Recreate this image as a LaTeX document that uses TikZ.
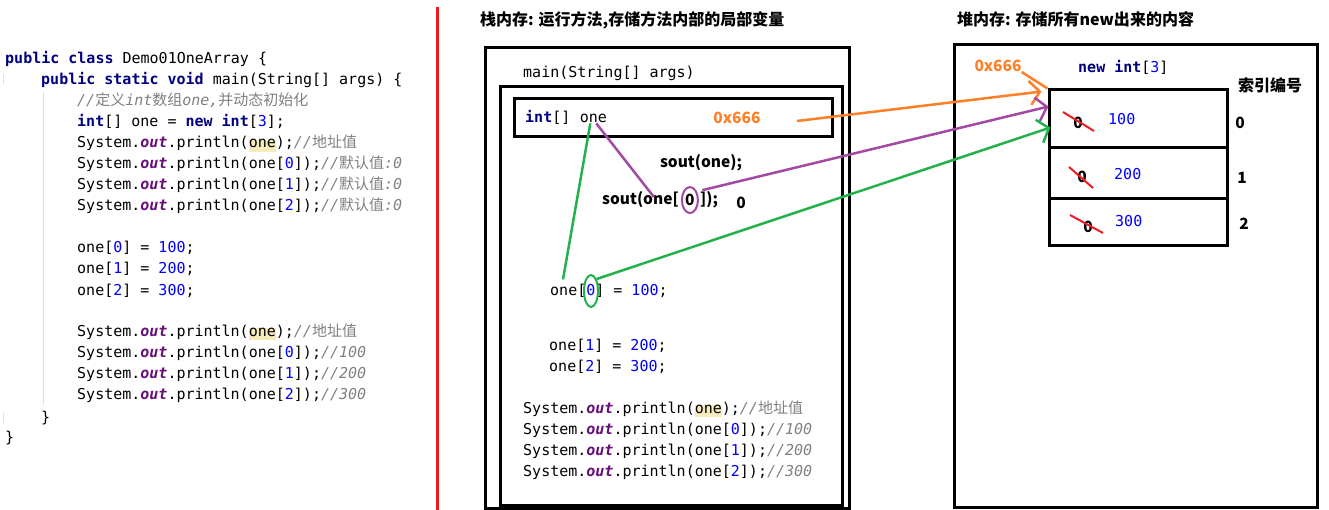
\documentclass[tikz,border=0pt]{standalone}
\usepackage{fontspec}
\setmonofont{DejaVu Sans Mono}
\newfontfamily\cjk{Noto Sans CJK SC}
\usepackage{xcolor}
\usepackage{tikz}
\usetikzlibrary{positioning, shapes.geometric, arrows.meta, calc}

\definecolor{kwc}{RGB}{0,0,128}
\definecolor{outc}{RGB}{102,14,122}
\definecolor{numc}{RGB}{0,0,255}
\definecolor{cmtc}{RGB}{128,128,128}
\definecolor{hlbg}{RGB}{246,235,188}
\definecolor{arrO}{RGB}{255,127,39}
\definecolor{arrP}{RGB}{163,73,164}
\definecolor{arrG}{RGB}{34,177,76}
\definecolor{redc}{RGB}{237,28,36}
\definecolor{guidec}{RGB}{224,224,224}

\newcommand\kw[1]{\textcolor{kwc}{\bfseries #1}}
\newcommand\nbr[1]{\textcolor{numc}{#1}}
\newcommand\outf{\textcolor{outc}{\bfseries\itshape out}}
\newcommand\cmt[1]{\textcolor{cmtc}{\itshape #1}}
\newcommand\hlone{{\setlength\fboxsep{0pt}\colorbox{hlbg}{\rule[-4pt]{0pt}{11pt}one}}}

\begin{document}
\begin{tikzpicture}[
  x=1pt, y=-1pt,
  code/.style={anchor=base west, inner sep=0pt,
               font=\ttfamily\fontsize{15}{18}\selectfont},
  title/.style={inner sep=0pt, font=\cjk\bfseries\fontsize{16}{19}\selectfont},
  hand/.style={inner sep=0pt, font=\cjk\bfseries\fontsize{15.5}{19}\selectfont},
  box/.style={draw, line width=3pt, inner sep=0pt},
  ring/.style={ellipse, draw=#1, line width=2pt, inner sep=0pt},
  link/.style={draw=#1, line width=2.5pt},
  ptr/.style={link=#1, -{Straight Barb[length=10pt, width=24pt]}},
  strike/.style={draw=redc, line width=2pt},
  guide/.style={draw=guidec, line width=1pt}
]
  \useasboundingbox (0,0) rectangle (1329,510);

  % source code on the left
  \draw[guide] (43,92) -- (43,405);
  \draw[guide] (3,74) -- (3,84);
  \draw[guide] (3,413) -- (3,423);
  \node[code] (L1)  at (5,64)   {\kw{public} \kw{class} Demo01OneArray \{};
  \node[code] (L2)  at (41,85)  {\kw{public} \kw{static} \kw{void} main(String[] args) \{};
  \node[code] (L3)  at (77,106) {\cmt{//{\cjk 定义}int{\cjk 数组}one,{\cjk 并动态初始化}}};
  \node[code] (L4)  at (77,127) {\kw{int}[] one = \kw{new} \kw{int}[\nbr{3}];};
  \node[code] (L5)  at (77,148) {System.\outf.println(\hlone);\cmt{//{\cjk 地址值}}};
  \node[code] (L6)  at (77,169) {System.\outf.println(one[\nbr{0}]);\cmt{//{\cjk 默认值}:0}};
  \node[code] (L7)  at (77,190) {System.\outf.println(one[\nbr{1}]);\cmt{//{\cjk 默认值}:0}};
  \node[code] (L8)  at (77,211) {System.\outf.println(one[\nbr{2}]);\cmt{//{\cjk 默认值}:0}};
  \node[code] (L9)  at (77,253) {one[\nbr{0}] = \nbr{100};};
  \node[code] (L10) at (77,274) {one[\nbr{1}] = \nbr{200};};
  \node[code] (L11) at (77,295) {one[\nbr{2}] = \nbr{300};};
  \node[code] (L12) at (77,336) {System.\outf.println(\hlone);\cmt{//{\cjk 地址值}}};
  \node[code] (L13) at (77,357) {System.\outf.println(one[\nbr{0}]);\cmt{//100}};
  \node[code] (L14) at (77,378) {System.\outf.println(one[\nbr{1}]);\cmt{//200}};
  \node[code] (L15) at (77,399) {System.\outf.println(one[\nbr{2}]);\cmt{//300}};
  \node[code] (L16) at (41,422) {\}};
  \node[code] (L17) at (5,442)  {\}};

  \draw[draw=redc, line width=3pt] (437,7) -- (437,510);

  % stack
  \node[title, anchor=base west] (stacktitle) at (480,26) {栈内存: 运行方法,存储方法内部的局部变量};
  \node[box, minimum width=364pt, minimum height=460pt] (stack) at (667,278) {};
  \node[box, minimum width=342pt, minimum height=418pt] (frame) at (671,296) {};
  \node[code] (mainsig) at (523,78) {main(String[] args)};
  \node[box, minimum width=318pt, minimum height=38pt] (var) at (673,118) {};
  \node[code] (decl) at (525,123) {\kw{int}[]};
  \node[code] (onename) at ([xshift=9pt]decl.base east) {one};
  \node[hand, text=arrO] (hexval) at (737,118) {0x666};
  \node[hand] (soutone) at (701,163) {sout(one);};
  \node[hand, anchor=base west] (soutL) at (602,205) {sout(one[};
  \node[ring=arrP, font=\cjk\bfseries\fontsize{15.5}{19}\selectfont,
        minimum width=16pt, minimum height=26pt, right=2pt of soutL] (idx0) {0};
  \node[hand, right=1pt of idx0] (soutR) {]);};
  \node[hand] (zeroout) at (741,203) {0};

  \node[code] (set0) at (550,295) {one[\nbr{0}] = \nbr{100};};
  \node[ring=arrG, minimum width=14pt, minimum height=32pt] (idx0g)
        at ($(set0.base west)+(41,-4)$) {};
  \node[code] (set1) at (549,350) {one[\nbr{1}] = \nbr{200};};
  \node[code] (set2) at (549,371) {one[\nbr{2}] = \nbr{300};};
  \node[code] (pr1) at (523,413) {System.\outf.println(\hlone);\cmt{//{\cjk 地址值}}};
  \node[code] (pr2) at (523,434) {System.\outf.println(one[\nbr{0}]);\cmt{//100}};
  \node[code] (pr3) at (523,455) {System.\outf.println(one[\nbr{1}]);\cmt{//200}};
  \node[code] (pr4) at (523,476) {System.\outf.println(one[\nbr{2}]);\cmt{//300}};

  % heap
  \node[title, anchor=base west] (heaptitle) at (957,26) {堆内存: 存储所有new出来的内容};
  \node[box, minimum width=363pt, minimum height=462pt] (heap) at (1135.5,276) {};
  \node[hand, text=arrO] (hexlbl) at (998,66) {0x666};
  \node[code] (newarr) at (1078,73) {\kw{new} \kw{int}[\nbr{3}]};
  \node[title] (idxhead) at (1270,85) {索引编号};
  \node[box, minimum width=178pt, minimum height=58pt] (cell0) at (1138,119) {};
  \node[box, minimum width=178pt, minimum height=51pt] (cell1) at (1138,173.5) {};
  \node[box, minimum width=178pt, minimum height=47pt] (cell2) at (1138,222.5) {};
  \node[hand] (z0) at (1078,123) {0};
  \node[hand] (z1) at (1082,177) {0};
  \node[hand] (z2) at (1088,227) {0};
  \node[code, text=numc] (v0) at (1108,125) {100};
  \node[code, text=numc] (v1) at (1114,180) {200};
  \node[code, text=numc] (v2) at (1115,227) {300};
  \node[hand] (i0) at (1240,123) {0};
  \node[hand] (i1) at (1242,178) {1};
  \node[hand] (i2) at (1244,224) {2};
  \draw[strike] ($(z0)+(-15,-11)$) -- ($(z0)+(16,8)$);
  \draw[strike] ($(z1)+(-13,-10)$) -- ($(z1)+(11,11)$);
  \draw[strike] ($(z2)+(-18,-12)$) -- ($(z2)+(15,6)$);

  % pointers
  \coordinate (oStart) at (797,121);
  \coordinate (oEnd) at ($(cell0.north west)+(-6,3)$);
  \coordinate (pEnd) at ($(cell0.north west)+(1,18)$);
  \coordinate (gEnd) at ($(cell0.north west)+(3,39)$);
  \draw[ptr=arrO] (oStart) -- (oEnd);
  \draw[link=arrO] (hexlbl.south east) -- (cell0.north west);
  \draw[link=arrP] ($(onename.south)+(3,0)$) -- ($(soutL.east)+(-25,-3)$);
  \draw[ptr=arrP] ([xshift=6pt]idx0.north east) -- (pEnd);
  \draw[link=arrG] ($(onename.south)+(-3,0)$) -- ($(set0.north west)+(13,-4)$);
  \draw[ptr=arrG] (idx0g.north east) -- (gEnd);
\end{tikzpicture}
\end{document}
